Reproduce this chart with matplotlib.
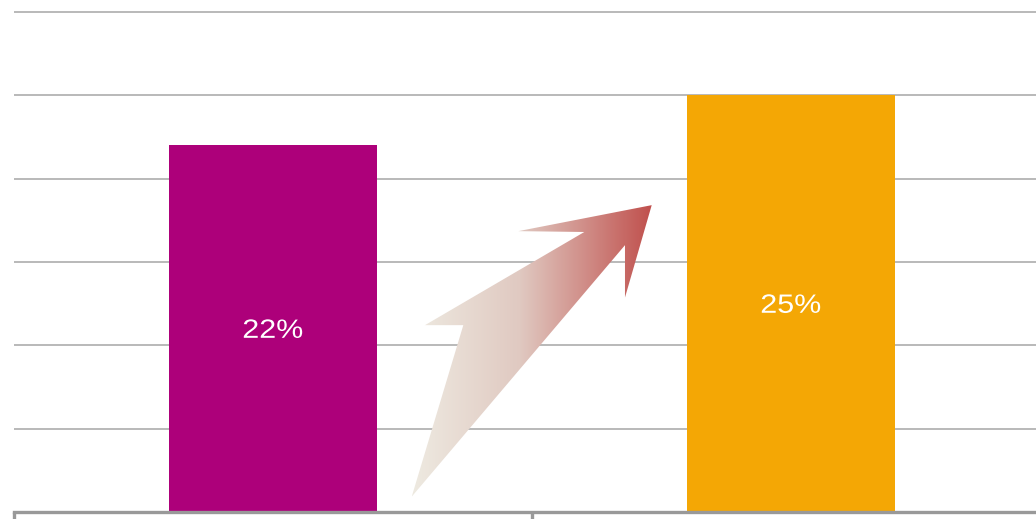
import numpy as np
import matplotlib.pyplot as plt
from matplotlib.patches import Polygon, PathPatch
from matplotlib.colors import LinearSegmentedColormap
from matplotlib.textpath import TextPath
from matplotlib.font_manager import FontProperties
from matplotlib.transforms import Affine2D, ScaledTranslation

# data
categories = ['A', 'B']
values = [22, 25]
labels = ['22%', '25%']
bar_colors = ['#AD007A', '#F4A705']
grid_ticks = [5, 10, 15, 20, 25, 30]

fig = plt.figure(figsize=(10.36, 5.19), dpi=100)
ax = fig.add_axes([14 / 1036, 7 / 519, 1.0, 516.7 / 519])
ax.set_xlim(-0.5, 1.5)
ax.set_ylim(0, 31)

x = np.arange(len(categories))
bars = ax.bar(x, values, width=0.4, color=bar_colors, zorder=2)

# value labels, slightly stretched wide like the original
fp = FontProperties(family='Liberation Sans')
for b, lab in zip(bars, labels):
    tp = TextPath((0, 0), lab, size=26.5, prop=fp)
    ext = tp.get_extents()
    cx = (ext.x0 + ext.x1) / 2
    cy = (ext.y0 + ext.y1) / 2
    tr = (Affine2D().translate(-cx, -cy).scale(1.15, 1.0)
          + ScaledTranslation(b.get_x() + b.get_width() / 2, b.get_height() / 2, ax.transData))
    ax.add_artist(PathPatch(tp, transform=tr, facecolor='white', edgecolor='none', zorder=4))

for t in grid_ticks:
    ax.axhline(t, color='#A6A6A6', lw=1.1, zorder=1)

for s in ['top', 'right', 'left']:
    ax.spines[s].set_visible(False)
ax.spines['bottom'].set_color('#999999')
ax.spines['bottom'].set_linewidth(2.4)
ax.spines['bottom'].set_zorder(3)
ax.set_yticks([])
ax.set_xticks([])
ax.set_xticks([-0.5, 0.5, 1.5], minor=True)
ax.tick_params(axis='x', which='minor', length=6, width=2.4, color='#999999',
               labelbottom=False)

# gradient arrow
arrow_pts = [(0.2678, 0.92), (0.3674, 11.21), (0.2934, 11.21), (0.601, 16.80),
             (0.4736, 16.85), (0.7311, 18.41), (0.6795, 12.87), (0.6795, 16.01)]
poly = Polygon(arrow_pts, closed=True, facecolor='none', edgecolor='none')
ax.add_patch(poly)
cmap = LinearSegmentedColormap.from_list(
    'arr', [(0, '#EEEAE1'), (0.45, '#E0C9C1'), (1, '#C0504D')])
grad = np.linspace(0, 1, 256).reshape(1, -1)
xs = [p[0] for p in arrow_pts]
ys = [p[1] for p in arrow_pts]
im = ax.imshow(grad, cmap=cmap, aspect='auto',
               extent=[min(xs), max(xs), min(ys), max(ys)], zorder=3)
im.set_clip_path(poly)
ax.set_xlim(-0.5, 1.5)
ax.set_ylim(0, 31)

fig.savefig('out.png', dpi=100)
